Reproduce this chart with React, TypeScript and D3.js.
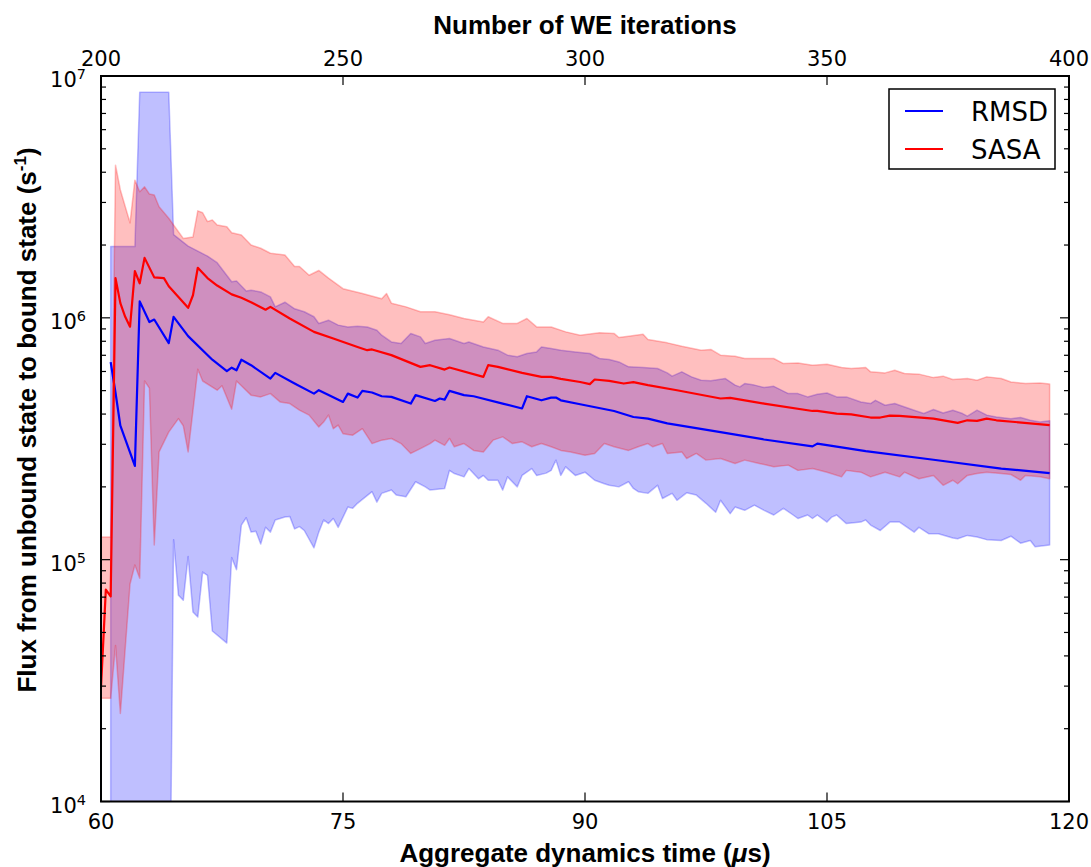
import React from "react";
import * as d3 from "d3";

type P = [number, number];

// [WE iteration, flux (s^-1)]
const sasaMean: P[] = [
  [200, 2.96e4], [201, 7.52e4], [202, 7.05e4], [203, 1.46e6], [204, 1.15e6], [205, 1.01e6], [206, 9.19e5],
  [207, 1.56e6], [208, 1.39e6], [209, 1.77e6], [211, 1.47e6], [213, 1.46e6], [214, 1.35e6], [218, 1.10e6],
  [219, 1.24e6], [220, 1.61e6], [222, 1.46e6], [224, 1.36e6], [227, 1.25e6], [229, 1.21e6], [231, 1.16e6],
  [234, 1.08e6], [235, 1.11e6], [239, 9.94e5], [244, 8.75e5], [248, 8.21e5], [253, 7.58e5], [255, 7.35e5],
  [256, 7.40e5], [260, 7.01e5], [266, 6.27e5], [268, 6.37e5], [271, 6.11e5], [272, 6.23e5], [279, 5.70e5],
  [280, 6.37e5], [282, 6.27e5], [287, 5.92e5], [291, 5.70e5], [293, 5.70e5], [295, 5.59e5], [299, 5.43e5],
  [301, 5.32e5], [302, 5.56e5], [305, 5.49e5], [308, 5.35e5], [310, 5.42e5], [313, 5.27e5], [319, 5.02e5],
  [328, 4.64e5], [330, 4.67e5], [337, 4.42e5], [347, 4.12e5], [348, 4.12e5], [352, 4.02e5], [355, 3.99e5],
  [359, 3.87e5], [361, 3.87e5], [363, 3.94e5], [365, 3.93e5], [372, 3.83e5], [377, 3.68e5], [379, 3.77e5],
  [381, 3.75e5], [383, 3.83e5], [385, 3.77e5], [396, 3.60e5],
];

const sasaUpper: P[] = [
  [200, 1.24e5], [201, 1.24e5], [202, 1.24e5], [203, 4.28e6], [204, 3.38e6], [206, 2.47e6], [207, 3.71e6],
  [208, 3.32e6], [209, 3.48e6], [210, 3.25e6], [211, 3.22e6], [212, 2.88e6], [214, 2.58e6], [215, 2.42e6],
  [217, 2.13e6], [219, 2.16e6], [220, 2.77e6], [221, 2.72e6], [222, 2.50e6], [223, 2.54e6], [224, 2.42e6],
  [226, 2.38e6], [227, 2.25e6], [229, 2.20e6], [231, 2.00e6], [233, 1.94e6], [235, 1.85e6], [238, 1.82e6],
  [240, 1.63e6], [241, 1.63e6], [243, 1.50e6], [245, 1.57e6], [247, 1.46e6], [250, 1.32e6], [254, 1.26e6],
  [258, 1.20e6], [259, 1.26e6], [260, 1.15e6], [263, 1.11e6], [266, 1.06e6], [269, 1.06e6], [272, 1.03e6],
  [275, 9.94e5], [279, 9.62e5], [280, 1.01e6], [283, 9.48e5], [286, 9.48e5], [288, 9.94e5], [290, 9.17e5],
  [293, 9.17e5], [296, 8.75e5], [299, 8.48e5], [303, 8.67e5], [306, 8.62e5], [307, 8.29e5], [309, 8.40e5],
  [312, 8.56e5], [313, 8.14e5], [317, 7.88e5], [320, 7.63e5], [324, 7.35e5], [326, 7.40e5], [328, 7.01e5],
  [331, 6.94e5], [333, 6.79e5], [336, 6.79e5], [339, 6.79e5], [341, 6.47e5], [344, 6.51e5], [347, 6.37e5],
  [350, 6.43e5], [353, 6.23e5], [355, 6.17e5], [358, 6.23e5], [359, 5.98e5], [362, 5.92e5], [364, 6.07e5],
  [366, 5.89e5], [369, 5.85e5], [372, 5.66e5], [374, 5.74e5], [376, 5.56e5], [379, 5.61e5], [381, 5.52e5],
  [383, 5.70e5], [386, 5.61e5], [388, 5.43e5], [391, 5.35e5], [394, 5.38e5], [396, 5.32e5],
];

const sasaLower: P[] = [
  [200, 2.67e4], [201, 2.67e4], [202, 2.67e4], [203, 4.42e4], [204, 2.31e4], [206, 7.93e4], [207, 9.50e4],
  [208, 8.37e4], [209, 5.48e5], [210, 5.12e5], [211, 1.15e5], [212, 2.79e5], [214, 3.37e5], [216, 3.83e5],
  [217, 3.58e5], [218, 2.79e5], [220, 6.13e5], [221, 5.48e5], [224, 5.02e5], [225, 5.24e5], [227, 4.19e5],
  [228, 5.48e5], [231, 4.79e5], [233, 4.71e5], [235, 4.86e5], [237, 4.49e5], [239, 4.42e5], [241, 4.15e5],
  [243, 3.96e5], [245, 3.54e5], [246, 3.71e5], [247, 3.96e5], [248, 3.48e5], [249, 3.60e5], [250, 3.32e5],
  [252, 3.27e5], [254, 3.48e5], [256, 3.02e5], [258, 3.12e5], [260, 3.17e5], [262, 3.02e5], [264, 2.75e5],
  [266, 2.88e5], [268, 3.02e5], [269, 3.12e5], [271, 2.97e5], [272, 3.17e5], [273, 2.93e5], [275, 3.02e5],
  [277, 2.83e5], [279, 2.79e5], [281, 3.12e5], [283, 3.22e5], [285, 3.02e5], [287, 3.07e5], [289, 2.93e5],
  [291, 3.02e5], [293, 2.93e5], [295, 2.83e5], [297, 2.79e5], [300, 2.70e5], [302, 2.75e5], [304, 3.02e5],
  [306, 2.93e5], [309, 2.83e5], [311, 2.93e5], [313, 3.02e5], [314, 2.93e5], [316, 3.02e5], [317, 2.75e5],
  [320, 2.79e5], [321, 2.62e5], [323, 2.75e5], [325, 2.58e5], [328, 2.62e5], [331, 2.50e5], [333, 2.58e5],
  [336, 2.50e5], [339, 2.42e5], [342, 2.46e5], [344, 2.34e5], [347, 2.38e5], [350, 2.30e5], [353, 2.20e5],
  [354, 2.34e5], [357, 2.30e5], [359, 2.20e5], [362, 2.30e5], [365, 2.20e5], [366, 2.30e5], [369, 2.16e5],
  [372, 2.23e5], [374, 2.03e5], [376, 2.13e5], [377, 2.06e5], [379, 2.23e5], [381, 2.27e5], [383, 2.30e5],
  [386, 2.27e5], [388, 2.25e5], [390, 2.13e5], [391, 2.23e5], [394, 2.20e5], [396, 2.16e5],
];

const rmsdMean: P[] = [
  [202, 6.56e5], [203, 4.90e5], [204, 3.58e5], [207, 2.44e5], [208, 1.17e6], [210, 9.61e5], [211, 9.84e5],
  [214, 7.86e5], [215, 1.01e6], [218, 8.40e5], [223, 6.71e5], [226, 6.02e5], [227, 6.22e5], [228, 6.07e5],
  [229, 6.71e5], [231, 6.37e5], [235, 5.61e5], [236, 5.92e5], [240, 5.35e5], [244, 4.86e5], [245, 5.02e5],
  [250, 4.49e5], [251, 4.86e5], [253, 4.68e5], [254, 4.99e5], [256, 4.91e5], [258, 4.74e5], [260, 4.71e5],
  [264, 4.42e5], [265, 4.79e5], [269, 4.53e5], [270, 4.64e5], [271, 4.59e5], [272, 4.99e5], [275, 4.79e5],
  [277, 4.74e5], [283, 4.42e5], [287, 4.22e5], [288, 4.74e5], [291, 4.56e5], [293, 4.68e5], [294, 4.68e5],
  [295, 4.56e5], [299, 4.39e5], [306, 4.12e5], [310, 3.89e5], [313, 3.83e5], [317, 3.66e5], [328, 3.37e5],
  [337, 3.14e5], [347, 2.94e5], [348, 3.02e5], [358, 2.81e5], [372, 2.59e5], [386, 2.38e5], [396, 2.28e5],
];

const rmsdUpper: P[] = [
  [202, 1.97e6], [207, 1.97e6], [208, 8.56e6], [214, 8.56e6], [215, 2.21e6], [218, 1.98e6], [222, 1.80e6],
  [224, 1.69e6], [227, 1.41e6], [228, 1.42e6], [230, 1.29e6], [231, 1.30e6], [233, 1.28e6], [235, 1.22e6],
  [236, 1.11e6], [238, 1.16e6], [240, 1.09e6], [242, 1.06e6], [244, 1.01e6], [245, 9.48e5], [247, 9.78e5],
  [249, 9.33e5], [251, 9.17e5], [253, 9.24e5], [255, 9.17e5], [257, 8.89e5], [258, 8.48e5], [260, 7.95e5],
  [262, 7.83e5], [264, 8.62e5], [266, 8.34e5], [267, 7.83e5], [269, 8.08e5], [272, 8.21e5], [275, 7.83e5],
  [276, 7.95e5], [279, 7.58e5], [282, 7.35e5], [284, 7.01e5], [286, 6.90e5], [288, 7.12e5], [290, 7.23e5],
  [291, 7.58e5], [293, 7.47e5], [295, 7.35e5], [298, 7.23e5], [301, 7.12e5], [303, 6.79e5], [305, 6.73e5],
  [307, 6.57e5], [309, 6.27e5], [312, 6.23e5], [315, 6.17e5], [317, 5.92e5], [318, 5.74e5], [320, 5.98e5],
  [322, 5.70e5], [324, 5.52e5], [326, 5.49e5], [329, 5.61e5], [331, 5.27e5], [332, 5.18e5], [333, 5.35e5],
  [335, 5.27e5], [337, 5.15e5], [339, 5.21e5], [342, 4.86e5], [344, 4.86e5], [346, 4.71e5], [348, 4.83e5],
  [350, 4.89e5], [352, 4.71e5], [354, 4.71e5], [357, 4.49e5], [359, 4.42e5], [360, 4.56e5], [362, 4.35e5],
  [364, 4.42e5], [365, 4.35e5], [368, 4.15e5], [370, 4.02e5], [372, 4.18e5], [374, 4.04e5], [376, 4.15e5],
  [378, 4.02e5], [379, 3.92e5], [381, 4.15e5], [383, 3.96e5], [385, 3.89e5], [388, 3.83e5], [390, 3.87e5],
  [392, 3.77e5], [394, 3.71e5], [396, 3.75e5],
];

// values below 1e4 lie off the bottom of the axis (clipped)
const rmsdLower: P[] = [
  [202, 1e3], [214, 1e3], [215, 1.21e5], [216, 7.12e4], [217, 6.79e4], [218, 1.03e5], [219, 6.07e4],
  [220, 5.79e4], [221, 8.89e4], [222, 8.61e4], [223, 5.07e4], [226, 4.52e4], [227, 1.02e5], [228, 9.09e4],
  [229, 1.39e5], [230, 1.49e5], [231, 1.30e5], [232, 1.31e5], [233, 1.16e5], [234, 1.36e5], [235, 1.30e5],
  [236, 1.46e5], [238, 1.50e5], [239, 1.51e5], [240, 1.34e5], [241, 1.37e5], [242, 1.32e5], [244, 1.12e5],
  [245, 1.30e5], [246, 1.46e5], [247, 1.41e5], [248, 1.48e5], [249, 1.36e5], [251, 1.65e5], [252, 1.63e5],
  [253, 1.71e5], [256, 1.91e5], [257, 1.73e5], [258, 1.88e5], [260, 1.94e5], [261, 1.85e5], [263, 1.82e5],
  [265, 2.10e5], [267, 2.00e5], [268, 1.94e5], [271, 1.97e5], [272, 2.34e5], [273, 2.27e5], [275, 2.20e5],
  [276, 2.38e5], [278, 2.16e5], [279, 2.23e5], [280, 2.13e5], [282, 2.13e5], [283, 1.94e5], [284, 2.20e5],
  [286, 2.00e5], [287, 2.23e5], [289, 2.38e5], [290, 2.23e5], [292, 2.28e5], [293, 2.34e5], [294, 2.58e5],
  [295, 2.23e5], [296, 2.42e5], [298, 2.23e5], [300, 2.30e5], [302, 2.13e5], [304, 2.06e5], [305, 2.03e5],
  [307, 2.00e5], [309, 2.10e5], [310, 1.97e5], [311, 1.91e5], [313, 1.88e5], [315, 2.03e5], [316, 1.79e5],
  [318, 1.88e5], [319, 1.76e5], [321, 1.89e5], [323, 1.85e5], [325, 1.71e5], [327, 1.57e5], [328, 1.76e5],
  [330, 1.55e5], [331, 1.65e5], [333, 1.60e5], [335, 1.68e5], [337, 1.60e5], [339, 1.53e5], [341, 1.63e5],
  [343, 1.53e5], [344, 1.48e5], [346, 1.53e5], [347, 1.48e5], [348, 1.53e5], [350, 1.43e5], [351, 1.50e5],
  [352, 1.53e5], [354, 1.41e5], [357, 1.43e5], [358, 1.46e5], [359, 1.39e5], [361, 1.32e5], [363, 1.43e5],
  [365, 1.43e5], [368, 1.30e5], [369, 1.36e5], [371, 1.28e5], [373, 1.28e5], [376, 1.23e5], [377, 1.22e5],
  [379, 1.26e5], [381, 1.24e5], [383, 1.21e5], [386, 1.20e5], [388, 1.25e5], [390, 1.17e5], [392, 1.20e5],
  [393, 1.13e5], [396, 1.15e5],
];

const timeTicks = [60, 75, 90, 105, 120];
const iterTicks = [200, 250, 300, 350, 400];
const fluxMajor = [1e4, 1e5, 1e6, 1e7];
const legendNames = ["RMSD", "SASA"];
const legendColors = ["#0000ff", "#ff0000"];

export default function App() {
  const W = 1091, H = 867;
  const left = 101, right = 1069, top = 76, bottom = 801.5;
  const xIter = d3.scaleLinear().domain([200, 400]).range([left, right]);
  const xTime = d3.scaleLinear().domain([60, 120]).range([left, right]);
  const y = d3.scaleLog().domain([1e4, 1e7]).range([bottom, top]);
  const line = d3.line<P>().x((d) => xIter(d[0])).y((d) => y(d[1]));
  const band = (up: P[], lo: P[]) => (line([...up, ...lo.slice().reverse()]) || "") + "Z";

  const minor: number[] = [];
  for (let e = 4; e < 7; e++) for (let m = 2; m <= 9; m++) minor.push(m * Math.pow(10, e));

  const tickFont = "'DejaVu Sans', sans-serif";
  const titleFont = "'Liberation Sans', Arial, sans-serif";

  return (
    <svg width={W} height={H} style={{ position: "absolute", left: 0, top: 0, background: "#fff" }}>
      <defs>
        <clipPath id="plotClip">
          <rect x={left} y={top} width={right - left} height={bottom - top} />
        </clipPath>
      </defs>
      <rect x={0} y={0} width={W} height={H} fill="#fff" />
      <g clipPath="url(#plotClip)">
        <path d={band(rmsdUpper, rmsdLower)} fill="#0000ff" fillOpacity={0.25} stroke="#0000ff" strokeOpacity={0.25} strokeWidth={1.5} strokeLinejoin="round" />
        <path d={band(sasaUpper, sasaLower)} fill="#ff0000" fillOpacity={0.25} stroke="#ff0000" strokeOpacity={0.25} strokeWidth={1.5} strokeLinejoin="round" />
        <path d={line(rmsdMean) || ""} fill="none" stroke="#0000ff" strokeWidth={2.2} strokeLinejoin="round" />
        <path d={line(sasaMean) || ""} fill="none" stroke="#ff0000" strokeWidth={2.2} strokeLinejoin="round" />
      </g>

      {/* y ticks left & right */}
      {fluxMajor.map((v) => (
        <g key={"M" + v}>
          <line x1={left} x2={left + 9} y1={y(v)} y2={y(v)} stroke="#000" strokeWidth={1.2} />
          <line x1={right} x2={right - 9} y1={y(v)} y2={y(v)} stroke="#000" strokeWidth={1.2} />
          <text x={86} y={y(v) + 11} textAnchor="end" fontFamily={tickFont} fontSize={21}>
            10<tspan dy={-8} fontSize={14.5}>{Math.round(Math.log10(v))}</tspan>
          </text>
        </g>
      ))}
      {minor.map((v) => (
        <g key={"m" + v}>
          <line x1={left} x2={left + 5} y1={y(v)} y2={y(v)} stroke="#000" strokeWidth={1.2} />
          <line x1={right} x2={right - 5} y1={y(v)} y2={y(v)} stroke="#000" strokeWidth={1.2} />
        </g>
      ))}

      {/* bottom ticks */}
      {timeTicks.map((t) => (
        <g key={"t" + t}>
          <line x1={xTime(t)} x2={xTime(t)} y1={bottom} y2={bottom - 9} stroke="#000" strokeWidth={1.2} />
          <text x={xTime(t)} y={829} textAnchor="middle" fontFamily={tickFont} fontSize={21}>{t}</text>
        </g>
      ))}
      {/* top ticks */}
      {iterTicks.map((t) => (
        <g key={"i" + t}>
          <line x1={xIter(t)} x2={xIter(t)} y1={top} y2={top + 9} stroke="#000" strokeWidth={1.2} />
          <text x={xIter(t)} y={66} textAnchor="middle" fontFamily={tickFont} fontSize={21}>{t}</text>
        </g>
      ))}

      <rect x={left} y={top} width={right - left} height={bottom - top} fill="none" stroke="#000" strokeWidth={2} />

      {/* legend */}
      <rect x={889} y={89} width={166} height={80} fill="#fff" stroke="#000" strokeWidth={1.5} />
      {legendNames.map((n, i) => (
        <g key={n}>
          <line x1={905} x2={943} y1={111 + i * 38} y2={111 + i * 38} stroke={legendColors[i]} strokeWidth={2.2} />
          <text x={971} y={120.5 + i * 38} fontFamily={tickFont} fontSize={26}>{n}</text>
        </g>
      ))}

      {/* titles */}
      <text x={585} y={34} textAnchor="middle" fontFamily={titleFont} fontWeight="bold" fontSize={26}>Number of WE iterations</text>
      <text x={585} y={862} textAnchor="middle" fontFamily={titleFont} fontWeight="bold" fontSize={26}>
        Aggregate dynamics time (<tspan fontStyle="italic">μ</tspan>s)
      </text>
      <text transform="translate(36,420) rotate(-90)" textAnchor="middle" fontFamily={titleFont} fontWeight="bold" fontSize={26}>
        Flux from unbound state to bound state (s<tspan dy={-10} fontSize={17}>-1</tspan><tspan dy={10}>)</tspan>
      </text>
    </svg>
  );
}
